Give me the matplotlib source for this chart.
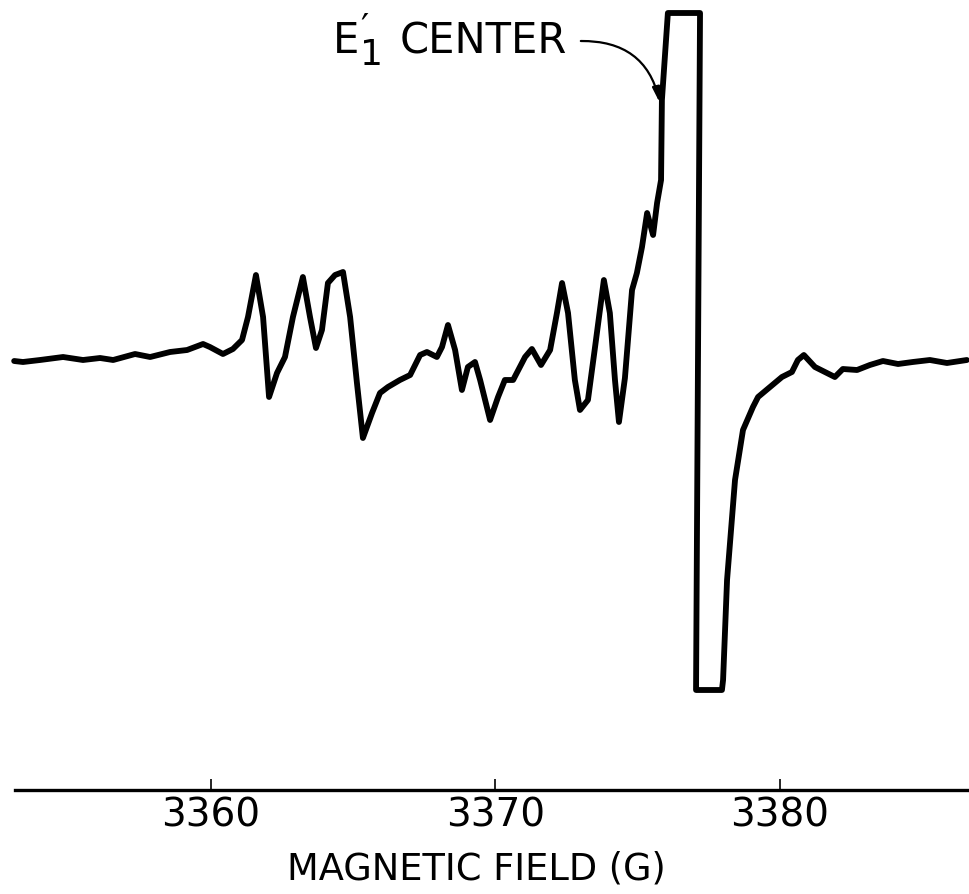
import matplotlib
matplotlib.use("Agg")
import matplotlib.pyplot as plt

# EPR derivative spectrum; the E'1 line runs off scale (clipped at top and bottom)
field_g = [
    3353.08, 3353.39, 3353.99, 3354.80, 3355.50, 3356.10, 3356.56, 3357.33,
    3357.86, 3358.56, 3359.16, 3359.72, 3359.96, 3360.42, 3360.77, 3361.09,
    3361.30, 3361.58, 3361.83, 3362.04, 3362.32, 3362.60, 3362.88, 3363.23,
    3363.48, 3363.69, 3363.90, 3364.11, 3364.36, 3364.64, 3364.89, 3365.13,
    3365.34, 3365.66, 3365.94, 3366.22, 3366.64, 3367.00, 3367.35, 3367.59,
    3367.94, 3368.12, 3368.33, 3368.58, 3368.82, 3369.03, 3369.28, 3369.46,
    3369.81, 3370.09, 3370.33, 3370.62, 3371.04, 3371.28, 3371.60, 3371.92,
    3372.16, 3372.34, 3372.55, 3372.79, 3372.97, 3373.25, 3373.50, 3373.81,
    3374.02, 3374.20, 3374.34, 3374.55, 3374.80, 3374.97, 3375.15, 3375.33,
    3375.54, 3375.68, 3375.82, 3375.85, 3376.06, 3377.19, 3377.05, 3377.96,
    3378.00, 3378.14, 3378.42, 3378.70, 3379.05, 3379.23, 3379.65, 3380.07,
    3380.42, 3380.63, 3380.84, 3381.23, 3381.58, 3381.93, 3382.21, 3382.71,
    3383.16, 3383.62, 3384.15, 3384.67, 3385.27, 3385.87, 3386.57,
]
signal = [
    -0.1, -0.2, 0.0, 0.3, 0.0, 0.2, 0.0, 0.6,
    0.3, 0.8, 1.0, 1.6, 1.3, 0.6, 1.1, 2.0,
    4.3, 8.5, 4.3, -3.7, -1.3, 0.3, 4.3, 8.3,
    4.3, 1.2, 3.0, 7.7, 8.5, 8.8, 4.3, -2.3,
    -7.8, -5.3, -3.3, -2.7, -2.0, -1.5, 0.5, 0.8,
    0.3, 1.3, 3.5, 1.0, -3.0, -0.7, -0.2, -2.0,
    -6.0, -3.7, -2.0, -2.0, 0.3, 1.1, -0.5, 1.0,
    4.7, 7.7, 4.7, -2.0, -5.0, -4.0, 1.3, 8.0,
    4.7, -2.0, -6.2, -1.8, 7.0, 8.7, 11.3, 14.7,
    12.5, 15.7, 18.0, 26.0, 34.7, 34.7, -33.0, -33.0,
    -32.0, -22.0, -12.0, -7.0, -4.7, -3.7, -2.7, -1.7,
    -1.2, 0.0, 0.5, -0.7, -1.2, -1.7, -0.9, -1.0,
    -0.5, -0.1, -0.4, -0.2, 0.0, -0.3, 0.0,
]
tick_fields = [3360, 3370, 3380]
tick_labels = ["3360", "3370", "3380"]

fig = plt.figure(figsize=(9.7, 8.94), dpi=100)
ax = fig.add_axes([15 / 970, 104 / 894, 955 / 970, 790 / 894])

ax.plot(field_g, signal, color="black", lw=4.2, solid_joinstyle="round",
        solid_capstyle="round", clip_on=False)

ax.set_xlim(3353.11, 3386.68)
ax.set_ylim(-43, 36)

for side in ("top", "left", "right"):
    ax.spines[side].set_visible(False)
ax.spines["bottom"].set_linewidth(2.4)
ax.set_yticks([])
ax.set_xticks(tick_fields)
ax.set_xticklabels(tick_labels)
ax.tick_params(axis="x", direction="in", length=8, width=1.2, pad=5,
               labelsize=28)
ax.set_xlabel("MAGNETIC FIELD (G)", fontsize=26.5)
ax.xaxis.set_label_coords(0.4827, -0.077)

# Label for the E'1 line: letter, then prime stacked over subscript, then word
ax.text(3364.29, 30.7, "E", fontsize=30, ha="left", va="baseline")
ax.text(3365.25, 29.5, "\u2032\n1", fontsize=26, ha="left", va="baseline",
        linespacing=0.72, multialignment="left")
ax.text(3372.51, 30.7, "CENTER", fontsize=30, ha="right", va="baseline")
ax.annotate("", xy=(3375.78, 25.7), xytext=(3373.0, 31.9),
            arrowprops=dict(arrowstyle="-|>,head_length=0.9,head_width=0.22",
                            connectionstyle="arc3,rad=-0.4", color="black",
                            lw=1.6, shrinkA=0, shrinkB=0))

fig.savefig("out.png", dpi=100, facecolor="white")
